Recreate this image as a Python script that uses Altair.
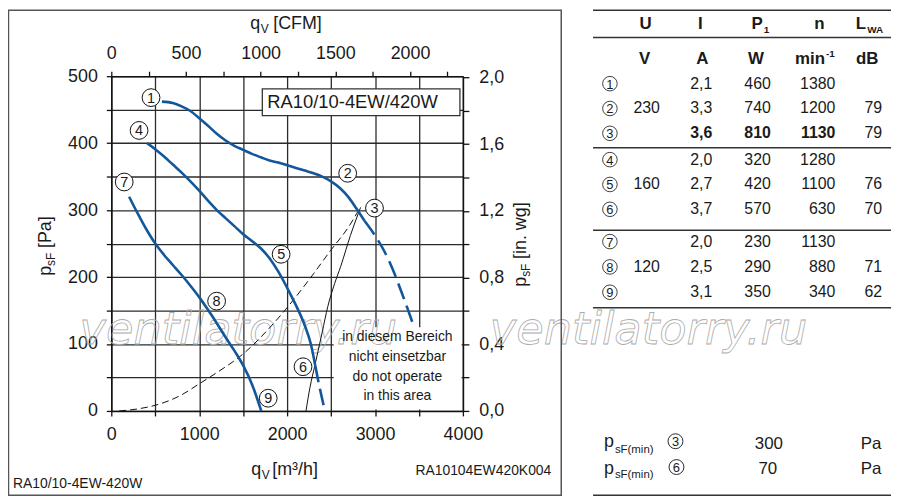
import altair as alt
import pandas as pd

# ------------------------------------------------------------------ data
# 230 V curve (operating points 1-2-3), solid part and dashed continuation  [m3/h, Pa]
c123_q = [576, 700, 800, 900, 994, 1100, 1200, 1300, 1400, 1500, 1600, 1700, 1800, 1900, 2000, 2100,
          2200, 2300, 2400, 2500, 2600, 2700, 2800, 2880]
c123_p = [462, 460, 455, 448, 438, 426, 414, 404, 396, 390, 384, 379, 374, 371, 367, 363,
          359, 355, 350, 343, 333, 319, 300, 284]
c123d_q = [2880, 3000, 3100, 3200, 3300, 3424]
c123d_p = [284, 262, 240, 212, 178, 133]
# 160 V curve (points 4-5-6)
c456_q = [407, 500, 600, 700, 800, 900, 1000, 1100, 1200, 1300, 1400, 1500, 1600, 1700, 1800, 1900,
          2000, 2100, 2200, 2270, 2320]
c456_p = [400, 391, 380, 368, 356, 343, 329, 314, 300, 288, 276, 264, 254, 243, 228, 208,
          184, 158, 128, 100, 68]
c456d_q = [2320, 2370, 2430]
c456d_p = [68, 35, 0]
# 120 V curve (points 7-8-9)
c789_q = [203, 300, 400, 500, 600, 700, 800, 900, 1000, 1100, 1200, 1300, 1400, 1500, 1600, 1706]
c789_p = [320, 295, 271, 250, 233, 218, 203, 187, 170, 151, 131, 110, 90, 68, 40, 0]
# thin dashed system curve and thin solid limit line
sys_q = [90, 300, 542, 800, 994, 1186, 1525, 1800, 2011, 2250, 2497, 2700, 2836]
sys_p = [0, 3, 10, 24, 40, 56, 88, 124, 156, 196, 240, 275, 305]
lim_q = [2215, 2260, 2316, 2400, 2463, 2540, 2610, 2720, 2836]
lim_p = [0, 35, 68, 118, 156, 190, 216, 262, 304]
# circled operating-point labels
pt_num = ["1", "2", "3", "4", "5", "6", "7", "8", "9"]
pt_q = [452, 2689, 2994, 316, 1932, 2181, 147, 1198, 1785]
pt_p = [468, 355, 303, 419, 234, 66, 342, 164, 19]

# axis tick values
x_ticks = [0, 500, 1000, 1500, 2000, 2500, 3000, 3500, 4000]
y_ticks = [0, 50, 100, 150, 200, 250, 300, 350, 400, 450, 500]
cfm_ticks = [0, 250, 500, 750, 1000, 1250, 1500, 1750, 2000, 2250]
inwg_ticks = [0.0, 0.2, 0.4, 0.6, 0.8, 1.0, 1.2, 1.4, 1.6, 1.8, 2.0]

# table
t_row = [1, 2, 3, 4, 5, 6, 7, 8, 9]
t_num = ["1", "2", "3", "4", "5", "6", "7", "8", "9"]
t_U = ["", "230", "", "", "160", "", "", "120", ""]
t_I = ["2,1", "3,3", "3,6", "2,0", "2,7", "3,7", "2,0", "2,5", "3,1"]
t_P1 = ["460", "740", "810", "320", "420", "570", "230", "290", "350"]
t_n = ["1380", "1200", "1130", "1280", "1100", "630", "1130", "880", "340"]
t_L = ["", "79", "79", "", "76", "70", "", "71", "62"]
t_bold = [0, 0, 1, 0, 0, 0, 0, 0, 0]
psf_min = ["300", "70"]

# ------------------------------------------------------------------ style / layout
FONT = "Liberation Sans"
BLUE = "#13579b"
INK = "#1a1a1a"
GRID = "#2b2b2b"
PX0, PY0 = 112, 75          # page position of the plot origin
W, H = 354, 337


def px(x):
    return x - PX0


def py(y):
    return y - PY0


one = pd.DataFrame({"k": [0]})


def label(s, x, y, size=16, bold=False, align="left", baseline="alphabetic",
          angle=None, font=FONT, color=INK):
    kw = dict(text=s, font=font, fontSize=size, align=align, baseline=baseline, color=color)
    if bold:
        kw["fontWeight"] = "bold"
    if angle is not None:
        kw["angle"] = angle
    return alt.Chart(one).mark_text(**kw).encode(x=alt.value(px(x)), y=alt.value(py(y)))


def hrule(y, x1, x2, color="#333333", w=1.5):
    return alt.Chart(one).mark_rule(color=color, strokeWidth=w).encode(
        x=alt.value(px(x1)), x2=alt.value(px(x2)), y=alt.value(py(y)))


def circ(x, y, size):
    return alt.Chart(one).mark_point(shape="circle", filled=True, fill="white", stroke="#111111",
                                     strokeWidth=0.9, size=size, opacity=1).encode(
        x=alt.value(px(x)), y=alt.value(py(y)))


common_axis = dict(labelFont=FONT, labelFontSize=18, labelColor=INK, domainColor="#111111",
                   domainWidth=1.5, tickColor="#111111", tickWidth=1.3, labelFlush=False,
                   labelOverlap=False, title=None)

xs = alt.Scale(domain=[0, 4000], nice=False, zero=False)
ys = alt.Scale(domain=[0, 500], nice=False, zero=False)
x_axis = alt.Axis(orient="bottom", values=x_ticks, format="d",
                  labelExpr="datum.value % 1000 == 0 ? datum.label : ''",
                  grid=True, gridColor=GRID, gridWidth=1.3, tickSize=5, labelPadding=10, **common_axis)
y_axis = alt.Axis(orient="left", values=y_ticks, format="d",
                  labelExpr="datum.value % 100 == 0 ? datum.label : ''",
                  grid=True, gridColor=GRID, gridWidth=1.3, tickSize=5, labelPadding=9, **common_axis)


def XQ(f):
    return alt.X(f, type="quantitative", scale=xs, axis=x_axis)


def YQ(f):
    return alt.Y(f, type="quantitative", scale=ys, axis=y_axis)


def XD(v):
    return alt.XDatum(v, type="quantitative", scale=xs, axis=x_axis)


def YD(v):
    return alt.YDatum(v, type="quantitative", scale=ys, axis=y_axis)


def frame(qs, ps, name):
    return pd.DataFrame({"q": qs, "p": ps, "s": name, "o": list(range(len(qs)))})


solid = pd.concat([frame(c123_q, c123_p, "a"), frame(c456_q, c456_p, "b"), frame(c789_q, c789_p, "c")])
dashed = pd.concat([frame(c123d_q, c123d_p, "a"), frame(c456d_q, c456d_p, "b")])
sysdf = frame(sys_q, sys_p, "s")
limdf = frame(lim_q, lim_p, "l")
ptdf = pd.DataFrame({"n": pt_num, "q": pt_q, "p": pt_p})

# ------------------------------------------------------------------ main plot
whitebox = alt.Chart(one).mark_rect(fill="white").encode(
    x=XD(2530), x2=alt.X2Datum(3985), y=YD(2), y2=alt.Y2Datum(125))
namebox = alt.Chart(one).mark_rect(fill="white", stroke="#333333", strokeWidth=1.3).encode(
    x=XD(1718), x2=alt.X2Datum(3966), y=YD(441), y2=alt.Y2Datum(481))
nametext = alt.Chart(one).mark_text(text="RA10/10-4EW/420W", font=FONT, fontSize=18.5, align="left",
                                    baseline="middle", color=INK).encode(x=XD(1775), y=YD(461))

wm_kw = dict(font="DejaVu Sans", fontSize=45, fontStyle="italic", align="left", baseline="alphabetic",
             fill="white", fillOpacity=0, stroke="#ababab", strokeWidth=0.8)
wm1 = alt.Chart(one).mark_text(text="ventilatorry.ru", **wm_kw).encode(x=alt.value(px(80)), y=alt.value(py(345)))
wm2 = alt.Chart(one).mark_text(text="ventilatorry.ru", **wm_kw).encode(x=alt.value(px(493)), y=alt.value(py(345)))

blue_solid = alt.Chart(solid).mark_line(color=BLUE, strokeWidth=2.6, interpolate="monotone").encode(
    x=XQ("q"), y=YQ("p"), detail="s:N", order="o:Q")
blue_dash = alt.Chart(dashed).mark_line(color=BLUE, strokeWidth=2.6, interpolate="monotone",
                                        strokeDash=[17, 7]).encode(
    x=XQ("q"), y=YQ("p"), detail="s:N", order="o:Q")
sys_line = alt.Chart(sysdf).mark_line(color="#111111", strokeWidth=1, strokeDash=[7, 4],
                                      interpolate="monotone").encode(x=XQ("q"), y=YQ("p"), order="o:Q")
lim_line = alt.Chart(limdf).mark_line(color="#111111", strokeWidth=1, interpolate="monotone").encode(
    x=XQ("q"), y=YQ("p"), order="o:Q")
pt_circ = alt.Chart(ptdf).mark_point(shape="circle", filled=True, fill="white", stroke="#111111",
                                     strokeWidth=1, size=320, opacity=1).encode(x=XQ("q"), y=YQ("p"))
pt_txt = alt.Chart(ptdf).mark_text(font=FONT, fontSize=14.5, color=INK, baseline="middle", dy=1).encode(
    x=XQ("q"), y=YQ("p"), text="n:N")

area_lines = [label(s, 400, yy, size=14, align="center", baseline="middle")
              for s, yy in zip(["in diesem Bereich", "nicht einsetzbar", "do not operate", "in this area"],
                               [338, 358, 378, 397])]

main = alt.layer(whitebox, namebox, nametext, wm1, wm2, sys_line, lim_line, blue_solid, blue_dash,
                 pt_circ, pt_txt, *area_lines)

# ------------------------------------------------------------------ secondary axes
cfm_axis = alt.Axis(orient="top", values=cfm_ticks, format="d",
                    labelExpr="datum.value % 500 == 0 ? datum.label : ''",
                    grid=False, tickSize=5, labelPadding=9, **common_axis)
cfm_layer = alt.Chart(pd.DataFrame({"cfm": cfm_ticks})).mark_point(opacity=0).encode(
    x=alt.X("cfm:Q", scale=alt.Scale(domain=[0, 4000 / 1.699], nice=False, zero=False), axis=cfm_axis))

inwg_axis = alt.Axis(orient="right", values=inwg_ticks,
                     labelExpr="round(datum.value*10) % 4 == 0 ? replace(format(datum.value, '.1f'), '.', ',') : ''",
                     grid=False, tickSize=6, labelPadding=10, **common_axis)
inwg_layer = alt.Chart(pd.DataFrame({"w": inwg_ticks})).mark_point(opacity=0).encode(
    y=alt.Y("w:Q", scale=alt.Scale(domain=[0, 500 / 249.089], nice=False, zero=False), axis=inwg_axis))

# ------------------------------------------------------------------ table
tbl = pd.DataFrame({"row": t_row, "num": t_num, "U": t_U, "I": t_I, "P": t_P1, "n": t_n,
                    "L": t_L, "bold": t_bold})
row_scale = alt.Scale(domain=[1, 3, 4, 6, 7, 9],
                      range=[py(82.5), py(132.5), py(159), py(209), py(241.5), py(292.5)],
                      nice=False, zero=False)
ROWY = alt.Y("row:Q", scale=row_scale, axis=None)


def tcol(field, xpage, align, with_bold=True):
    base = alt.Chart(tbl).encode(y=ROWY, x=alt.value(px(xpage)), text=alt.Text(f"{field}:N"))
    if not with_bold:
        return [base.mark_text(font=FONT, fontSize=16, align=align, baseline="middle", color=INK)]
    r = base.transform_filter("datum.bold == 0").mark_text(font=FONT, fontSize=16, align=align,
                                                           baseline="middle", color=INK)
    b = base.transform_filter("datum.bold == 1").mark_text(font=FONT, fontSize=16, fontWeight="bold",
                                                           align=align, baseline="middle", color=INK)
    return [r, b]


t_circ = alt.Chart(tbl).mark_point(shape="circle", filled=True, fill="white", stroke="#111111",
                                   strokeWidth=0.8, size=215, opacity=1).encode(y=ROWY, x=alt.value(px(614)))
t_circtxt = alt.Chart(tbl).mark_text(font=FONT, fontSize=13, color=INK, baseline="middle", dy=1).encode(
    y=ROWY, x=alt.value(px(614)), text="num:N")

table = alt.layer(t_circ, t_circtxt,
                  *tcol("U", 651, "center", False), *tcol("I", 717, "right"), *tcol("P", 776, "right"),
                  *tcol("n", 841, "right"), *tcol("L", 888, "right", False))

# ------------------------------------------------------------------ annotations (titles, frame, table text)
frame_rect = alt.Chart(one).mark_rect(fill="white", fillOpacity=0, stroke="#555555", strokeWidth=1.5).encode(
    x=alt.value(px(8.5)), x2=alt.value(px(565)), y=alt.value(py(8.5)), y2=alt.value(py(497)))

ann = [
    frame_rect,
    # top axis title  q_V [CFM]
    label("q", 252, 27, size=18), label("V", 262.5, 31, size=12), label("[CFM]", 275, 27, size=18),
    # bottom axis title  q_V [m³/h]
    label("q", 253, 477, size=18), label("V", 263.5, 481, size=12), label("[m³/h]", 274, 477, size=18),
    # left axis title  p_sF [Pa]
    label("p", 51, 276, size=18, angle=270), label("sF", 55, 266, size=12, angle=270),
    label("[Pa]", 51, 248, size=18, angle=270),
    # right axis title  p_sF [in. wg]
    label("p", 530, 287, size=18, angle=270), label("sF", 534, 277, size=12, angle=270),
    label("[in. wg]", 530, 259, size=18, angle=270),
    # footers
    label("RA10/10-4EW-420W", 13, 490, size=14),
    label("RA10104EW420K004", 555, 477, size=14, align="right"),
    # table header
    label("U", 650, 27, size=17, bold=True, align="center"),
    label("I", 705, 27, size=17, bold=True, align="center"),
    label("P", 768, 27, size=17, bold=True, align="right"),
    label("1", 769, 31, size=10, bold=True),
    label("n", 825, 27, size=17, bold=True, align="center"),
    label("L", 872, 27, size=17, bold=True, align="right"),
    label("WA", 873, 31, size=10, bold=True),
    label("V", 649, 63, size=17, bold=True, align="center"),
    label("A", 707, 63, size=17, bold=True, align="center"),
    label("W", 761, 63, size=17, bold=True, align="center"),
    label("min", 830.5, 63, size=17, bold=True, align="right"),
    label("-1", 831.5, 56, size=10, bold=True),
    label("dB", 873, 63, size=17, bold=True, align="center"),
    hrule(8.5, 597, 897), hrule(36, 597, 897), hrule(147, 597, 897), hrule(230, 597, 897),
    hrule(308, 597, 897), hrule(497, 597, 897),
    # p_sF(min) rows
    label("p", 608, 448.5, size=18), label("sF(min)", 619, 454, size=11.5),
    circ(680, 442.5, 225), label("3", 680, 443.5, size=13, align="center", baseline="middle"),
    label(psf_min[0], 774, 445, size=17, align="center", baseline="middle"),
    label("Pa", 877, 445, size=17, align="center", baseline="middle"),
    label("p", 608, 475, size=18), label("sF(min)", 619, 480, size=11.5),
    circ(681, 468.5, 225), label("6", 681, 469.5, size=13, align="center", baseline="middle"),
    label(psf_min[1], 773, 470, size=17, align="center", baseline="middle"),
    label("Pa", 877, 470, size=17, align="center", baseline="middle"),
]

chart = alt.layer(main, cfm_layer, inwg_layer, table, *ann).resolve_scale(
    x="independent", y="independent"
).properties(
    width=W, height=H,
    autosize=alt.AutoSizeParams(type="none"),
    padding={"left": 104, "top": 67, "right": 432, "bottom": 87},
    background="white",
).configure_view(stroke=None)

chart.save("out.html", embed_options={"renderer": "svg", "actions": False})
